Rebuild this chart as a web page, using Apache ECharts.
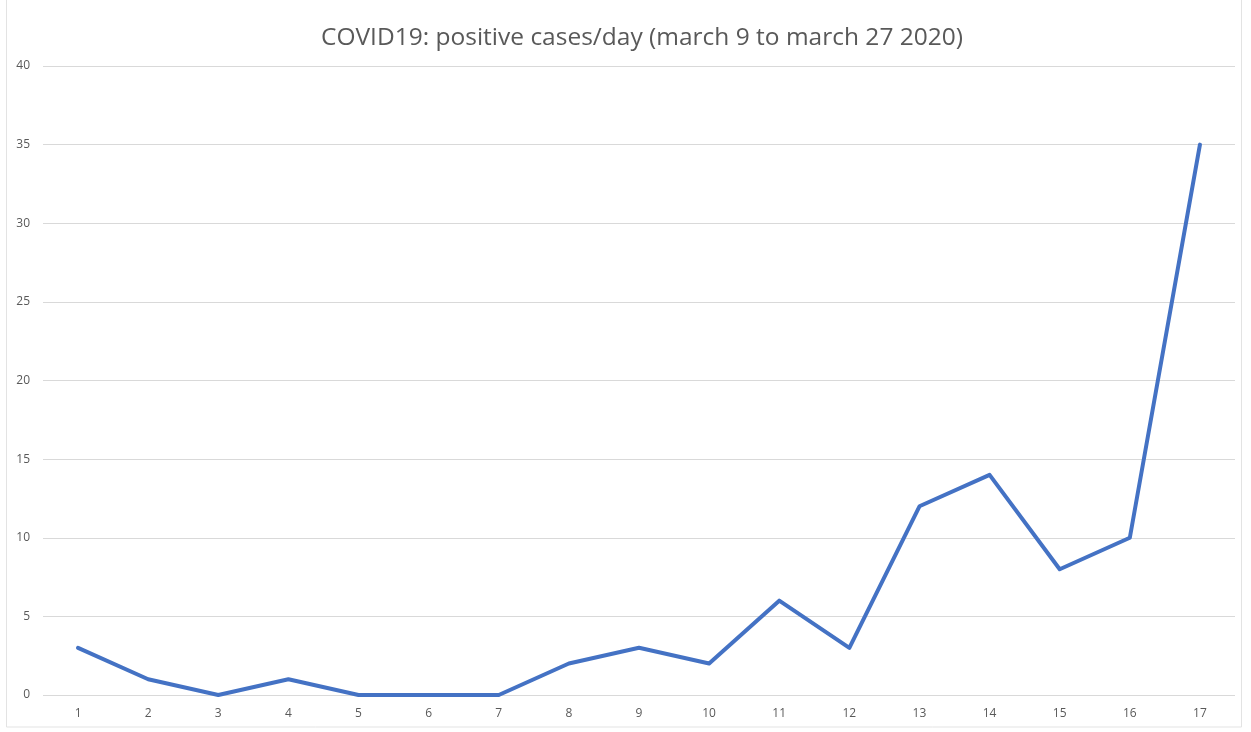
<!DOCTYPE html>
<html><head><meta charset="utf-8">
<script src="https://cdn.jsdelivr.net/npm/echarts@6/dist/echarts.min.js"></script>
<style>html,body{margin:0;padding:0;background:#fff}#c{width:1251px;height:732px}</style>
</head><body><div id="c"></div>
<script>
const titleText = 'COVID19: positive cases/day (march 9 to march 27 2020)';
const days = ['1','2','3','4','5','6','7','8','9','10','11','12','13','14','15','16','17'];
const cases = [3,1,0,1,0,0,0,2,3,2,6,3,12,14,8,10,35];

const chart = echarts.init(document.getElementById('c'), null, {renderer:'canvas'});
chart.setOption({
  animation:false,
  backgroundColor:'#fff',
  title:{text:titleText,left:637,textAlign:'center',top:21,
    textStyle:{fontFamily:'Open Sans',fontSize:24.5,fontWeight:'normal',color:'#595959'}},
  graphic:[{type:'rect',shape:{x:6.5,y:-2,width:1235,height:729},
    style:{fill:'none',stroke:'#e3e3e3',lineWidth:1},silent:true}],
  grid:{left:43,right:16,top:66,bottom:37},
  xAxis:{type:'category',data:days,boundaryGap:true,
    axisLine:{show:false},axisTick:{show:false},
    axisLabel:{margin:13,fontFamily:'Open Sans',fontSize:12,color:'#595959'}},
  yAxis:{type:'value',min:0,max:40,interval:5,
    axisLine:{show:false},axisTick:{show:false},
    splitLine:{lineStyle:{color:'#d9d9d9',width:1}},
    axisLabel:{margin:13,fontFamily:'Open Sans',fontSize:12,color:'#595959'}},
  series:[{type:'line',data:cases,symbol:'none',
    lineStyle:{color:'#4472C4',width:4,join:'round',cap:'round'}}]
});
</script></body></html>
